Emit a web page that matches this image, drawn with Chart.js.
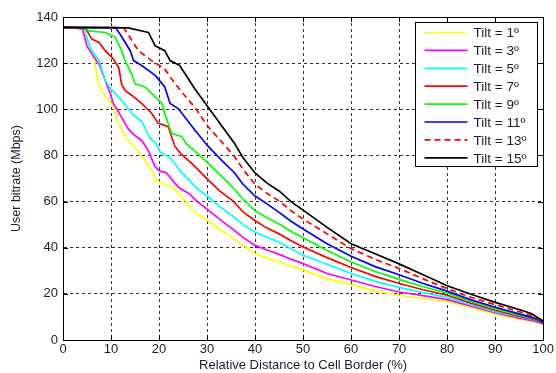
<!DOCTYPE html>
<html>
<head>
<meta charset="utf-8">
<script src="https://cdn.jsdelivr.net/npm/chart.js@4.4.1/dist/chart.umd.min.js"></script>
<style>
html,body{margin:0;padding:0;background:#fff;}
canvas{display:block;}
</style>
</head>
<body>
<canvas id="c" width="556" height="373"></canvas>
<script>
// ---- data ----
const tiltLabels = ["Tilt = 1º","Tilt = 3º","Tilt = 5º","Tilt = 7º","Tilt = 9º","Tilt = 11º","Tilt = 13º","Tilt = 15º"];
const xTicks = [0,10,20,30,40,50,60,70,80,90,100];
const yTicks = [0,20,40,60,80,100,120,140];

const tilt1X = [0,4,5,6.4,7.4,8.8,10.2,11.4,13,15.2,17,18.3,19.5,20.5,22.5,25,26.5,28,30,32.5,35,37.5,40,42.5,45,47.5,50,55,60,65,70,75,80,85,90,95,98,100];
const tilt1Y = [135.5,135,127,122.5,111,105.5,102.5,95,88,83,78,74,69,68,66.5,61.7,57.5,54.5,52,48,44.8,41,37.5,35.5,34,32,30.3,26.5,24,21.3,19.3,18,16.7,14,11.2,9,8,6.8];

const tilt3X = [0,4,5,6,7.5,8.8,9.8,10.5,12.2,13.6,14.7,16.4,17.8,19.2,20.2,21.5,23.3,24.2,26.2,28,30,32.5,35,37.5,40,42.5,45,47.5,50,55,60,65,70,75,80,85,90,95,98,100];
const tilt3Y = [135.5,135,127.5,124,119.5,112.5,107,102.5,96.5,91.5,89,86.5,82,75,73.2,72.5,68,66,63.5,60,56.7,52.5,48.6,44.5,41,39,37.1,35,33.1,28.8,26,23.2,20.8,19.2,17.5,14.7,11.8,9.5,8.3,7];

const tilt5X = [0,4.3,5.3,6,7.5,8.8,10.2,12.2,14.3,16.5,18.1,19.5,20.2,22.3,23.3,24.3,26.4,28,30,32.5,35,37.5,40,42.5,45,47.5,50,55,60,65,70,75,80,85,90,95,98,100];
const tilt5Y = [135.5,135,129,125.4,121,112.5,108.2,104,98.2,94.5,87.5,85,81.5,79,76.5,73.5,69,65.5,62.4,58,54.3,50,46.7,44.5,42.4,39.5,36.7,32.8,28.8,25.4,22.8,20.5,18.5,15.3,12.3,10,8.8,7.2];

const tilt7X = [0,4.7,5,6,7.5,8.8,10.2,11.6,12.2,12.9,14.3,16.4,18.5,19.8,21.9,23.3,24.5,27.1,29.8,32.6,35.4,37.5,40,42.5,45,47.5,50,55,60,65,70,75,80,85,90,95,98,100];
const tilt7Y = [135.5,135,134,130.4,129,125.4,122.5,118.2,111,108.2,106.1,102.5,98.2,94,92.5,84,80.8,76,70.3,64.6,60.3,55.5,51.7,48.5,46,43,40.3,35.7,31.4,27.6,24.5,21.8,19.4,16,12.9,10.3,9,7.3];

const tilt9X = [0,4.7,5.3,8.8,10.9,12.2,12.9,14.3,15,17.1,19.2,20.6,21.2,22.6,24.7,25.7,27.4,29.8,32.6,35.4,37.5,40,42.5,45,47.5,50,55,60,65,70,75,80,85,90,95,98,100];
const tilt9Y = [135.5,135.3,134,133.3,131.2,125.4,121.1,115.4,111,109.7,105.4,102.5,98.2,89.6,88.2,85,82,77.5,71.8,66.1,61,56,53,50.3,47,44.3,38.8,33.8,29.7,26.3,23.1,20.3,16.7,13.6,10.8,9.3,7.4];

const tilt11X = [0,10.9,11.9,14,14.7,16.4,19.2,21.2,22.3,24,27.4,30.2,33,35.7,37.5,40,42.5,45,47.5,50,55,60,65,70,75,80,85,90,95,98,100];
const tilt11Y = [135.5,135.4,132.5,125.4,121.1,119,114.7,109.7,102.5,100.3,91.1,84,78,72.5,67.5,62.4,59,55.3,51.5,48.1,41.7,36.3,31.8,28.3,24.5,21.2,17.4,14.2,11.3,9.6,7.6];

const tilt13X = [0,12.6,14,15.7,18.5,21.2,22.6,24.7,27.4,30.2,33,35.7,37.5,40,42.5,45,47.5,50,55,60,65,70,75,80,85,90,95,98,100];
const tilt13Y = [135.5,135.4,131,125.4,121,117.5,113.2,107.5,101,92.5,86,79.6,74,67.5,63.5,60.3,56,52.4,46,39.6,35,31,26.5,22.3,18.5,15.3,12.3,10.3,7.8];

const tilt15X = [0,13.6,17.8,19.2,21.2,22.3,24.3,27.4,30.2,33,35.7,37.5,40,42.5,45,47.5,50,55,60,65,70,75,80,85,90,95,97.5,100];
const tilt15Y = [135.5,135.3,133.3,127.5,125.4,121.1,119,109,101,93,85.3,79,72.4,68,64.6,60,56.3,48.8,41.7,37.4,33,28.3,23.5,19.8,16.3,13.2,11.5,8.2];

// ---- styling ----
const seriesX = [tilt1X,tilt3X,tilt5X,tilt7X,tilt9X,tilt11X,tilt13X,tilt15X];
const seriesY = [tilt1Y,tilt3Y,tilt5Y,tilt7Y,tilt9Y,tilt11Y,tilt13Y,tilt15Y];
const colors = ["#ffff00","#ff00ff","#00ffff","#ff0000","#00ff00","#0000ff","#ff0000","#000000"];
const dashes = [[],[],[],[],[],[],[6,4],[]];
const FONT = "'Liberation Sans', Arial, sans-serif";
const TXT = "#1c1c30";

const datasets = seriesX.map((xs, i) => ({
  label: tiltLabels[i],
  data: xs.map((x, k) => ({x: x, y: seriesY[i][k]})),
  borderColor: colors[i],
  backgroundColor: colors[i],
  borderWidth: 1.7,
  borderDash: dashes[i],
  pointRadius: 0,
  tension: 0,
  fill: false,
  order: 7 - i
}));

const framePlugin = {
  id: 'frameAndLegend',
  afterDraw(chart) {
    const ctx = chart.ctx;
    const a = chart.chartArea;
    const xs = chart.scales.x, ys = chart.scales.y;
    ctx.save();
    // inward ticks
    ctx.strokeStyle = '#000';
    ctx.lineWidth = 1;
    ctx.setLineDash([]);
    ctx.beginPath();
    xTicks.forEach(v => {
      const p = Math.round(xs.getPixelForValue(v)) + 0.5;
      ctx.moveTo(p, a.bottom); ctx.lineTo(p, a.bottom - 5);
      ctx.moveTo(p, a.top); ctx.lineTo(p, a.top + 5);
    });
    yTicks.forEach(v => {
      const p = Math.round(ys.getPixelForValue(v)) + 0.5;
      ctx.moveTo(a.left, p); ctx.lineTo(a.left + 5, p);
      ctx.moveTo(a.right, p); ctx.lineTo(a.right - 5, p);
    });
    ctx.stroke();
    // frame
    ctx.strokeRect(Math.round(a.left) + 0.5, Math.round(a.top) + 0.5,
                   Math.round(a.right - a.left), Math.round(a.bottom - a.top));
    // legend
    const bw = 122, bh = 144;
    const bx = Math.round(a.right - 6 - bw) + 0.5;
    const by = Math.round(a.top + 5) + 0.5;
    ctx.fillStyle = '#fff';
    ctx.fillRect(bx, by, bw, bh);
    ctx.strokeStyle = '#000';
    ctx.strokeRect(bx, by, bw, bh);
    ctx.font = "13.5px " + FONT;
    ctx.textBaseline = 'middle';
    ctx.textAlign = 'left';
    chart.data.datasets.forEach((ds, i) => {
      const cy = by + 10 + i * 17.9;
      ctx.strokeStyle = ds.borderColor;
      ctx.lineWidth = 1.7;
      ctx.setLineDash(ds.borderDash || []);
      ctx.beginPath();
      ctx.moveTo(bx + 9, cy); ctx.lineTo(bx + 52, cy);
      ctx.stroke();
      ctx.setLineDash([]);
      ctx.fillStyle = TXT;
      ctx.fillText(ds.label, bx + 58, cy + 1);
    });
    ctx.restore();
  }
};

new Chart(document.getElementById('c'), {
  type: 'line',
  data: { datasets: datasets },
  options: {
    responsive: false,
    devicePixelRatio: 1,
    animation: false,
    events: [],
    layout: { padding: { left: 0, right: 11, top: 17, bottom: 0 } },
    plugins: { legend: { display: false }, tooltip: { enabled: false } },
    scales: {
      x: {
        type: 'linear', min: 0, max: 100,
        afterFit(s) { s.height = 33; },
        afterBuildTicks(s) { s.ticks = xTicks.map(v => ({value: v})); },
        ticks: { color: TXT, font: { family: FONT, size: 13 }, padding: 2, maxRotation: 0 },
        grid: { color: '#333', lineWidth: 1, drawTicks: false },
        border: { display: true, color: '#000', dash: [3, 3] },
        title: { display: true, text: 'Relative Distance to Cell Border (%)', color: TXT,
                 font: { family: FONT, size: 13 }, padding: { top: 0, bottom: 0 } }
      },
      y: {
        type: 'linear', min: 0, max: 140,
        afterFit(s) { s.width = 63; },
        afterBuildTicks(s) { s.ticks = yTicks.map(v => ({value: v})); },
        ticks: { color: TXT, font: { family: FONT, size: 13 }, padding: 5 },
        grid: { color: '#333', lineWidth: 1, drawTicks: false },
        border: { display: true, color: '#000', dash: [3, 3] },
        title: { display: true, text: 'User bitrate (Mbps)', color: TXT,
                 font: { family: FONT, size: 12.5 }, padding: { top: 9, bottom: 0 } }
      }
    }
  },
  plugins: [framePlugin]
});
</script>
</body>
</html>
